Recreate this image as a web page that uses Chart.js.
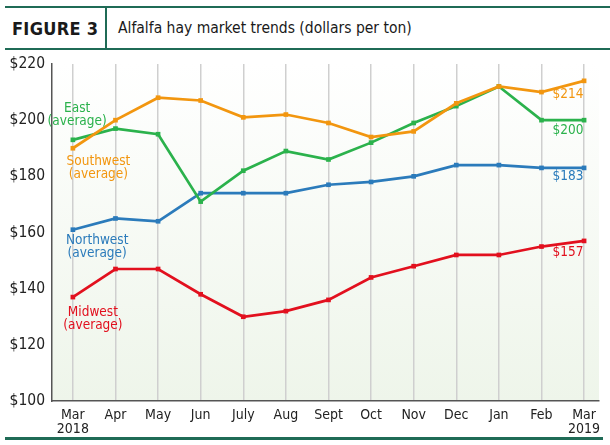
<!DOCTYPE html>
<html>
<head>
<meta charset="utf-8">
<script src="https://cdn.jsdelivr.net/npm/chart.js@4/dist/chart.umd.min.js"></script>
<style>
    body { margin: 0; background: #fff; width: 610px; height: 445px; position: relative; overflow: hidden; }
    #head { position: absolute; left: 5px; top: 6px; width: 605px; height: 40px; border-top: 2.5px solid #1f6b56; border-bottom: 2.5px solid #1f6b56; }
    #fig { position: absolute; left: 7px; top: 10px; font: bold 18px 'DejaVu Sans', sans-serif; font-stretch: condensed; color: #1a1a1a; letter-spacing: 0.3px; }
    #sep { position: absolute; left: 100px; top: 0; width: 2px; height: 40px; background: #1f6b56; }
    #title { position: absolute; left: 113px; top: 11px; font: 15.5px 'DejaVu Sans', sans-serif; font-stretch: condensed; color: #1a1a1a; }
    #foot { position: absolute; left: 5px; top: 437px; width: 598px; height: 2.5px; background: #1f6b56; }
    #c { position: absolute; left: 0; top: 0; }
</style>
</head>
<body>
<div id="head"><div id="fig">FIGURE 3</div><div id="sep"></div><div id="title">Alfalfa hay market trends (dollars per ton)</div></div>
<div id="foot"></div>
<canvas id="c" width="610" height="445"></canvas>
<script>
// data
const months = [['Mar', '2018'], 'Apr', 'May', 'Jun', 'July', 'Aug', 'Sept', 'Oct', 'Nov', 'Dec', 'Jan', 'Feb', ['Mar', '2019']];
const southwest = [190, 200, 208, 207, 201, 202, 199, 194, 196, 206, 212, 210, 214];
const east = [193, 197, 195, 171, 182, 189, 186, 192, 199, 205, 212, 200, 200];
const northwest = [161, 165, 164, 174, 174, 174, 177, 178, 180, 184, 184, 183, 183];
const midwest = [137, 147, 147, 138, 130, 132, 136, 144, 148, 152, 152, 155, 157];

const cOrange = '#f2960f';
const cGreen = '#2bb24c';
const cBlue = '#2b7bbb';
const cRed = '#e2101e';
const fam = "'DejaVu Sans', sans-serif";
const labelFont = "condensed 13.5px " + fam;

function toPts(arr) {
    return arr.map(function (v, i) { return {x: i, y: v}; });
}

function series(label, arr, color) {
    return {
        label: label,
        data: toPts(arr),
        borderColor: color,
        backgroundColor: color,
        borderWidth: 2.7,
        pointStyle: 'rect',
        pointRadius: 3.3,
        pointBorderWidth: 0,
        tension: 0
    };
}

//series labels, anchored in data units
const notes = [
    {lines: ['East', '(average)'], color: cGreen, x: 0.1, y: 204.3},
    {lines: ['Southwest', '(average)'], color: cOrange, x: 0.6, y: 185.3},
    {lines: ['Northwest', '(average)'], color: cBlue, x: 0.57, y: 157.1},
    {lines: ['Midwest', '(average)'], color: cRed, x: 0.47, y: 131.6},
    {lines: ['$214'], color: cOrange, x: 11.62, y: 209},
    {lines: ['$200'], color: cGreen, x: 11.62, y: 196.4},
    {lines: ['$183'], color: cBlue, x: 11.62, y: 180},
    {lines: ['$157'], color: cRed, x: 11.62, y: 153}
];

const bgPlugin = {
    id: 'bg',
    beforeDraw: function (chart) {
        let a = chart.chartArea;
        let ctx = chart.ctx;
        let g = ctx.createLinearGradient(0, a.top, 0, a.bottom);
        g.addColorStop(0, '#ffffff');
        g.addColorStop(1, '#eef5ea');
        ctx.save();
        ctx.fillStyle = g;
        ctx.fillRect(a.left, a.top, a.right - a.left, a.bottom - a.top);
        ctx.restore();
    }
};

const notePlugin = {
    id: 'notes',
    afterDatasetsDraw: function (chart) {
        let ctx = chart.ctx;
        let xs = chart.scales.x, ys = chart.scales.y;
        ctx.save();
        ctx.font = labelFont;
        ctx.textAlign = 'center';
        ctx.textBaseline = 'middle';
        notes.forEach(function (n) {
            ctx.fillStyle = n.color;
            let px = xs.getPixelForValue(n.x);
            let py = ys.getPixelForValue(n.y);
            n.lines.forEach(function (t, k) {
                ctx.fillText(t, px, py + k * 13);
            });
        });
        ctx.restore();
    }
};

new Chart(document.getElementById('c'), {
    type: 'line',
    data: {
        datasets: [
            series('Southwest', southwest, cOrange),
            series('East', east, cGreen),
            series('Northwest', northwest, cBlue),
            series('Midwest', midwest, cRed)
        ]
    },
    options: {
        responsive: false,
        animation: false,
        layout: {padding: {top: 64, left: 0, right: 11, bottom: 2}},
        plugins: {legend: {display: false}, tooltip: {enabled: false}},
        scales: {
            x: {
                type: 'linear',
                min: -0.49,
                max: 12.35,
                afterBuildTicks: function (axis) {
                    axis.ticks = months.map(function (m, i) { return {value: i}; });
                },
                ticks: {
                    callback: function (v) { return months[v]; },
                    color: '#222',
                    font: {family: fam, weight: 'condensed', size: 14, lineHeight: 1},
                    maxRotation: 0,
                    autoSkip: false,
                    padding: 7
                },
                grid: {color: '#cfcfcf', lineWidth: 1.5, drawTicks: false},
                border: {color: '#555', width: 1.5}
            },
            y: {
                min: 100,
                max: 220,
                afterFit: function (axis) { axis.width = 52; },
                ticks: {
                    stepSize: 20,
                    callback: function (v) { return '$' + v; },
                    color: '#222',
                    font: {family: fam, weight: 'condensed', size: 15.5},
                    padding: 7
                },
                grid: {display: false, drawTicks: false},
                border: {color: '#555', width: 1.5}
            }
        }
    },
    plugins: [bgPlugin, notePlugin]
});
</script>
</body>
</html>
